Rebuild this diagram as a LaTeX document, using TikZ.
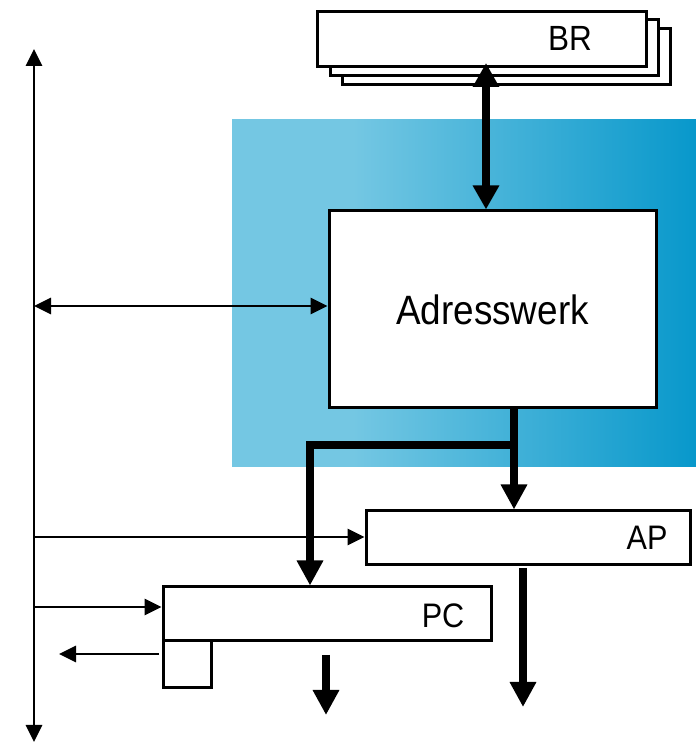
\documentclass[tikz,border=0pt]{standalone}
\usepackage{fontspec}
\setmainfont{Liberation Sans}
\newfontfamily\narrowsans[FakeStretch=0.9]{Liberation Sans}
\usetikzlibrary{arrows.meta}

% background band behind the address unit: flat light blue, then fading to a deeper blue
\definecolor{bandlight}{RGB}{116,199,227}
\definecolor{banddark}{RGB}{8,152,203}
\pgfdeclarehorizontalshading{blueband}{100bp}{%
  color(0bp)=(bandlight); color(25bp)=(bandlight); color(38bp)=(bandlight);
  color(75bp)=(banddark); color(100bp)=(banddark)}

\tikzset{
  regbox/.style={draw=black, line width=3pt, fill=white, inner sep=0pt, anchor=center},
  lbl/.style={font=\narrowsans\fontsize{34}{34}\selectfont, inner sep=0pt, anchor=center},
  thinarrow/.style={line width=2.8pt, -{Triangle[length=17pt,width=16pt]}},
  thinboth/.style={line width=2.8pt, {Triangle[length=17pt,width=16pt]}-{Triangle[length=17pt,width=16pt]}},
  thickarrow/.style={line width=7.5pt, -{Triangle[length=25pt,width=25pt]}},
  thickboth/.style={line width=7.5pt, {Triangle[length=24pt,width=25pt]}-{Triangle[length=24pt,width=25pt]}},
  thickline/.style={line width=7.5pt}
}

\begin{document}
\begin{tikzpicture}[x=1pt, y=1pt]
\useasboundingbox (0,0) rectangle (696,742);

% shaded band
\shade[shading=blueband] (232,275) rectangle (696,622);

% stacked register file BR
\node[regbox, minimum width=328pt, minimum height=56pt] (br3) at (506.5,685.5) {};
\node[regbox, minimum width=328pt, minimum height=56pt] (br2) at (494,694) {};
\node[regbox, minimum width=329pt, minimum height=55pt] (br) at (481.5,702.5) {};
\node[lbl, font=\narrowsans\fontsize{35}{35}\selectfont] (brtext) at (570,704) {BR};

% address unit
\node[regbox, minimum width=327pt, minimum height=197pt,
      font=\narrowsans\fontsize{41}{41}\selectfont] (aw) at (492.5,432.5) {Adresswerk};

% registers AP and PC
\node[regbox, minimum width=324pt, minimum height=54pt] (ap) at (528,204) {};
\node[lbl] (aptext) at (647,204) {AP};
\node[regbox, minimum width=328pt, minimum height=54pt] (pc) at (327,128) {};
\node[lbl] (pctext) at (443,126) {PC};
\node[regbox, minimum width=48pt, minimum height=47pt] (sq) at (187,77.5) {};

% vertical bus
\coordinate (bustop) at (34,693);
\coordinate (busbot) at (34,0);
\draw[thinboth] (busbot) -- (bustop);

% bus connections
\coordinate (busaw) at (34,436);
\coordinate (busap) at (34,205);
\coordinate (buspc) at (34,135);
\draw[thinboth] (busaw) -- (aw.west |- busaw);
\draw[thinarrow] (busap) -- (ap.west |- busap);
\draw[thinarrow] (buspc) -- (pc.west |- buspc);
\coordinate (sqout) at (159,88);
\coordinate (sqend) at (59,88);
\draw[thinarrow] (sqout) -- (sqend);

% thick data paths
\coordinate (brlow) at (486,679);
\draw[thickboth] (brlow) -- (aw.north -| brlow);
\coordinate (awout) at (514,334);
\coordinate (split) at (514,297);
\coordinate (bend) at (310,297);
\draw[thickarrow] (aw.south -| awout) -- (ap.north -| awout);
\draw[thickline, -{Triangle[length=25pt,width=25pt]}] (split) -- (bend) -- (pc.north -| bend);

\coordinate (pcout) at (326,87);
\coordinate (pcdown) at (326,27);
\draw[thickarrow] (pcout) -- (pcdown);
\coordinate (apout) at (523,174);
\coordinate (apdown) at (523,35);
\draw[thickarrow] (apout) -- (apdown);
\end{tikzpicture}
\end{document}
